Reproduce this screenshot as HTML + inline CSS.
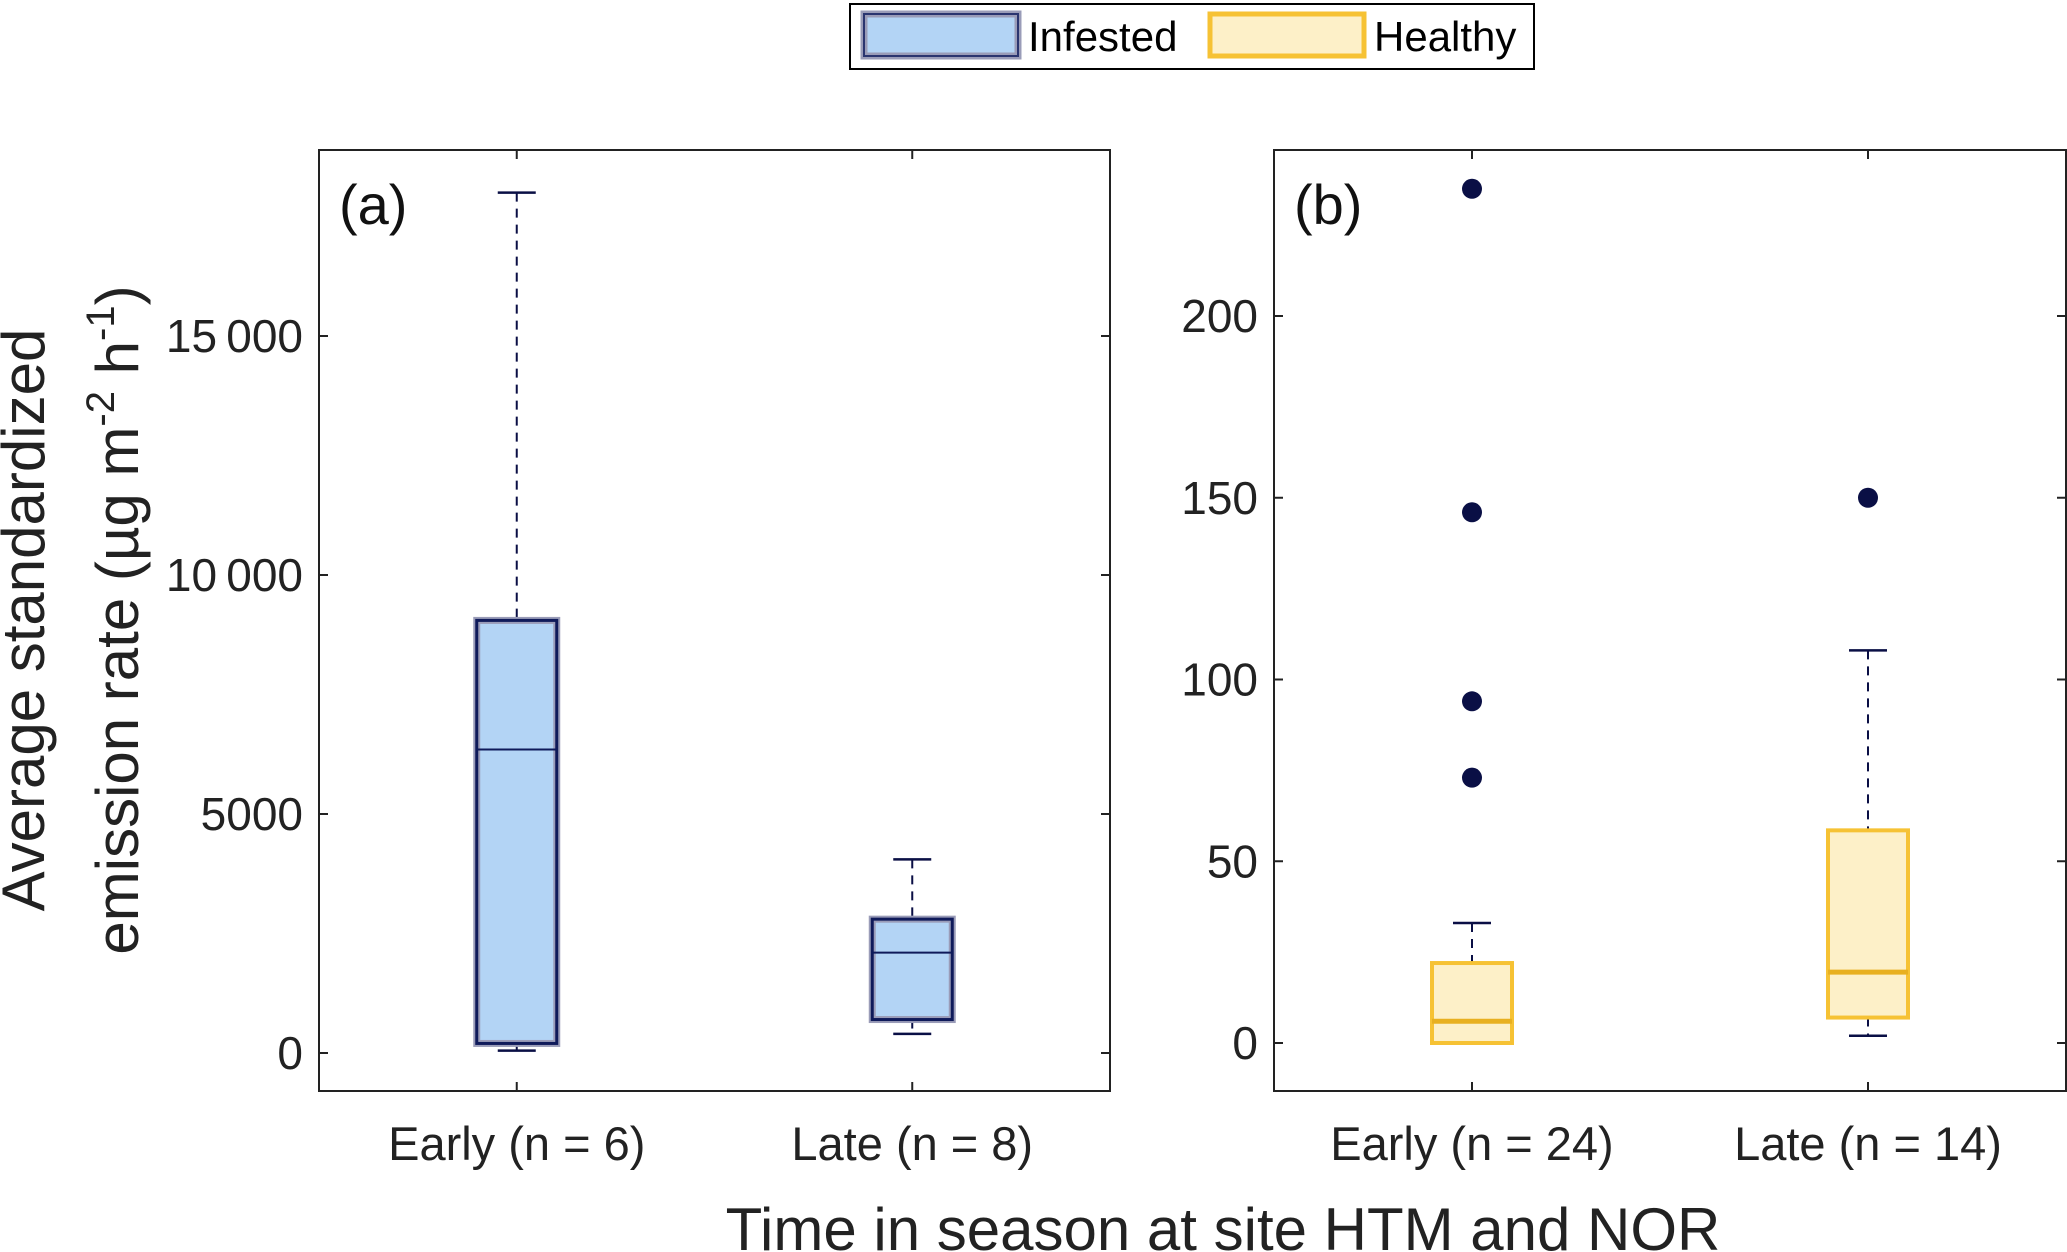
<!DOCTYPE html>
<html><head><meta charset="utf-8"><style>
html,body{margin:0;padding:0;background:#fff}
svg{display:block;font-family:"Liberation Sans",Arial,sans-serif}
</style></head><body>
<svg id="chart" width="2067" height="1252" viewBox="0 0 2067 1252" xmlns="http://www.w3.org/2000/svg">
<g id="legend">
<rect x="850" y="4" width="684" height="65" fill="#fff" stroke="#000" stroke-width="2"/>
<g>
<rect x="864" y="14" width="154" height="42" fill="#b3d4f5" stroke="#9a9cb8" stroke-width="7"/>
<rect x="864" y="14" width="154" height="42" fill="none" stroke="#2a3570" stroke-width="2"/>
<text x="1028" y="51" font-size="42" fill="#000">Infested</text></g>
<g>
<rect x="1210" y="14" width="154" height="42" fill="#fdf0c8" stroke="#f6c234" stroke-width="5"/>
<text x="1374" y="51" font-size="42" fill="#000">Healthy</text></g>
</g>
<text transform="translate(44,620) rotate(-90)" text-anchor="middle" font-size="60" fill="#222">Average standardized</text>
<text transform="translate(138,620) rotate(-90)" text-anchor="middle" font-size="60" fill="#222">emission rate (µg m<tspan dy="-24" font-size="40">-2</tspan><tspan dy="24"> h</tspan><tspan dy="-24" font-size="40">-1</tspan><tspan dy="24">)</tspan></text>
<text x="1223" y="1250" text-anchor="middle" font-size="60" fill="#222">Time in season at site HTM and NOR</text>
<g id="pa"></g>
<g id="pb"></g>
</svg>
<script>
const NS="http://www.w3.org/2000/svg";
const catsA=["Early (n = 6)","Late (n = 8)"];
const minA=[50,400];
const q1A=[200,700];
const medA=[6350,2100];
const q3A=[9050,2800];
const maxA=[18000,4050];
const outA=[[],[]];
const ticksA=[0,5000,10000,15000];
const tickLabelsA=["0","5000","10\u2009000","15\u2009000"];
const catsB=["Early (n = 24)","Late (n = 14)"];
const minB=[0,2];
const q1B=[0,7];
const medB=[6,19.5];
const q3B=[22,58.5];
const maxB=[33,108];
const outB=[[73,94,146,235],[150]];
const ticksB=[0,50,100,150,200];
const tickLabelsB=["0","50","100","150","200"];

function el(p,t,a){const e=document.createElementNS(NS,t);for(const k in a)e.setAttribute(k,a[k]);p.appendChild(e);return e;}
function panel(g,opt){
 const L=opt.L,R=opt.R,T=150,B=1091;
 const y=v=>opt.y0+(v-opt.v0)*opt.k;
 const x=i=>L+(R-L)*(i+0.5)/2;
 const frame=el(g,"rect",{x:L,y:T,width:R-L,height:B-T,fill:"none",stroke:"#222","stroke-width":2});
 
 
 opt.ticks.forEach((v,i)=>{
  const yy=y(v);
  el(g,"line",{x1:L,x2:L+9,y1:yy,y2:yy,stroke:"#222","stroke-width":2});
  el(g,"line",{x1:R-9,x2:R,y1:yy,y2:yy,stroke:"#222","stroke-width":2});
  const t=el(g,"text",{x:L-16,y:yy+16,"text-anchor":"end","font-size":"46",fill:"#222"});
  t.textContent=opt.labels[i];
  
  
 });
 opt.cats.forEach((c,i)=>{
  const xx=x(i);
  el(g,"line",{x1:xx,x2:xx,y1:B-9,y2:B,stroke:"#222","stroke-width":2});
  el(g,"line",{x1:xx,x2:xx,y1:T,y2:T+9,stroke:"#222","stroke-width":2});
  const t=el(g,"text",{x:xx,y:1160,"text-anchor":"middle","font-size":"47",fill:"#222"});
  t.textContent=c;
  
  
  const hw=40;
  const w1=el(g,"line",{x1:xx,x2:xx,y1:y(opt.max[i]),y2:y(opt.q3[i]),stroke:"#0a0f45","stroke-width":2,"stroke-dasharray":"9,7"});
  
  
  const w2=el(g,"line",{x1:xx,x2:xx,y1:y(opt.q1[i]),y2:y(opt.min[i]),stroke:"#0a0f45","stroke-width":2,"stroke-dasharray":"9,7"});
  
  
  el(g,"line",{x1:xx-19,x2:xx+19,y1:y(opt.max[i]),y2:y(opt.max[i]),stroke:"#0a0f45","stroke-width":2.5});
  el(g,"line",{x1:xx-19,x2:xx+19,y1:y(opt.min[i]),y2:y(opt.min[i]),stroke:"#0a0f45","stroke-width":2.5});
  const h=Math.max(1,y(opt.q1[i])-y(opt.q3[i]));
  const bx=el(g,"rect",{x:xx-hw,y:y(opt.q3[i]),width:2*hw,height:h,fill:opt.fill,stroke:opt.edge2,"stroke-width":opt.ew});
  
  
  if(opt.inner) el(g,"rect",{x:xx-hw,y:y(opt.q3[i]),width:2*hw,height:h,fill:"none",stroke:opt.inner,"stroke-width":3});
  const m=el(g,"line",{x1:xx-hw,x2:xx+hw,y1:y(opt.med[i]),y2:y(opt.med[i]),stroke:opt.medc,"stroke-width":opt.mw});
  
  
  opt.out[i].forEach(v=>{
   const o=el(g,"circle",{cx:xx,cy:y(v),r:10,fill:"#0a0f45"});
   
   
  });
 });
 const lab=el(g,"text",{x:L+20,y:T+74,"font-size":"56",fill:"#111"});
 lab.textContent=opt.tag;
 
 
}
panel(document.getElementById("pa"),{L:319,R:1110,y0:1053,v0:0,k:-239/5000,ticks:ticksA,labels:tickLabelsA,cats:catsA,min:minA,q1:q1A,med:medA,q3:q3A,max:maxA,out:outA,fill:"#b3d4f5",edge2:"#9a9cb8",ew:7,inner:"#0f1a5a",medc:"#0f1a5a",mw:2,tag:"(a)"});
panel(document.getElementById("pb"),{L:1274,R:2066,y0:1043,v0:0,k:-727/200,ticks:ticksB,labels:tickLabelsB,cats:catsB,min:minB,q1:q1B,med:medB,q3:q3B,max:maxB,out:outB,fill:"#fdf0c8",edge2:"#f6c234",ew:4,inner:null,medc:"#e8b020",mw:5,tag:"(b)"});
</script>
</body></html>
